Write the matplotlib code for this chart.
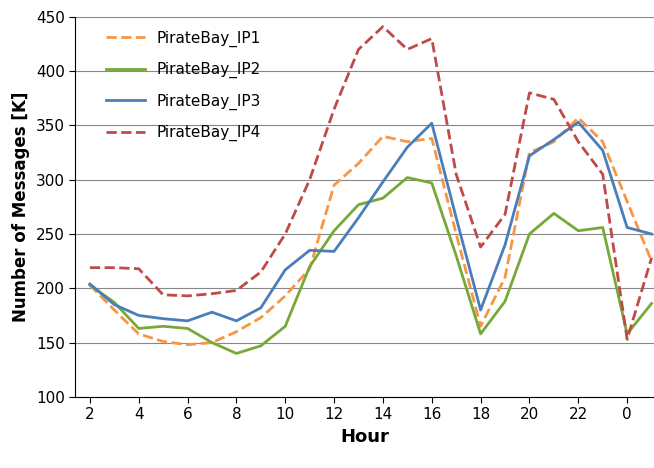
import matplotlib.pyplot as plt

hours = [2, 3, 4, 5, 6, 7, 8, 9, 10, 11, 12, 13, 14, 15, 16, 17, 18, 19, 20, 21, 22, 23, 0, 1]
ip1 = [203, 180, 158, 151, 148, 150, 160, 173, 193, 218, 295, 315, 340, 335, 338, 250,
       165, 210, 325, 335, 357, 335, 280, 225]
ip2 = [203, 187, 163, 165, 163, 150, 140, 147, 165, 220, 253, 277, 283, 302, 297, 230,
       158, 188, 250, 269, 253, 256, 158, 186]
ip3 = [204, 185, 175, 172, 170, 178, 170, 182, 217, 235, 234, 265, 298, 330, 352, 265,
       180, 240, 322, 337, 353, 327, 256, 250]
ip4 = [219, 219, 218, 194, 193, 195, 198, 215, 250, 300, 365, 420, 441, 420, 430, 305,
       238, 268, 380, 374, 335, 305, 153, 228]

x = list(range(len(hours)))

fig = plt.figure(figsize=(6.54, 4.68), dpi=100)
ax = fig.add_axes([0.115, 0.152, 0.885, 0.812])

ax.plot(x, ip1, "--", color="#f79646", lw=2, label="PirateBay_IP1")
ax.plot(x, ip2, "-", color="#77a838", lw=2, label="PirateBay_IP2")
ax.plot(x, ip3, "-", color="#4a7ebb", lw=2, label="PirateBay_IP3")
ax.plot(x, ip4, "--", color="#be4b48", lw=2, label="PirateBay_IP4")

ax.set_ylim(100, 450)
ax.set_yticks(range(100, 451, 50))
ax.set_xlim(-0.6, 23.1)
ax.set_xticks(x[::2])
ax.set_xticklabels([str(h) for h in hours[::2]])
ax.yaxis.grid(True, color="#888888", lw=0.8)
ax.set_axisbelow(True)
ax.tick_params(labelsize=11, length=4)
for s in ["top", "right"]:
    ax.spines[s].set_visible(False)
ax.set_xlabel("Hour", fontsize=13, fontweight="bold")
ax.set_ylabel("Number of Messages [K]", fontsize=12, fontweight="bold")
ax.legend(loc="upper left", bbox_to_anchor=(0.03, 1.0), frameon=False,
          fontsize=11, handlelength=2.5, labelspacing=1.0)

fig.savefig("out.png", dpi=100)
